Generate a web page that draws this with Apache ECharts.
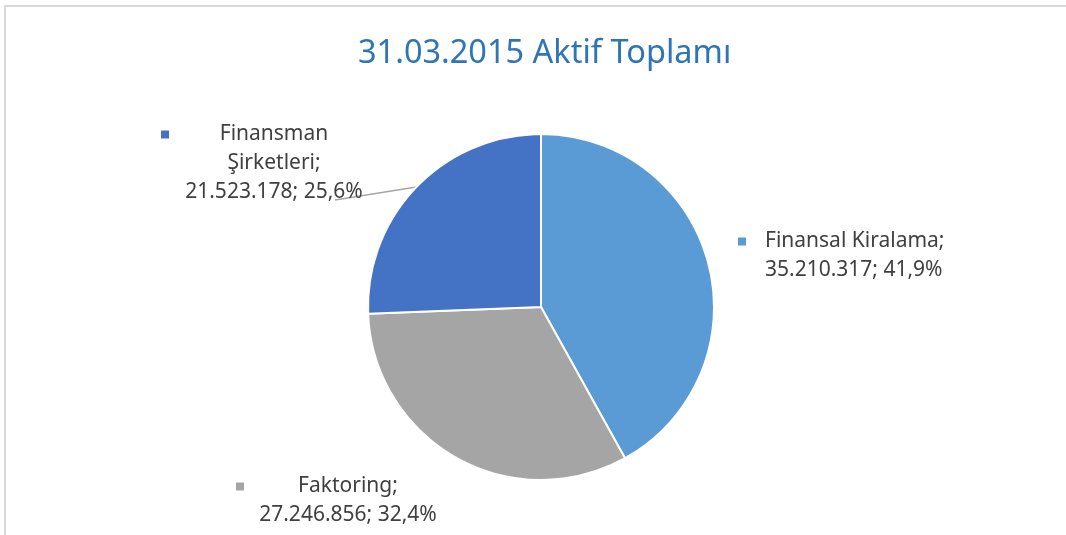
<!DOCTYPE html>
<html>
<head>
<meta charset="utf-8">
<script src="https://cdn.jsdelivr.net/npm/echarts@6/dist/echarts.min.js"></script>
<style>
  html, body { margin: 0; padding: 0; background: #fff; }
  #chart { position: absolute; left: 0; top: 0; width: 1066px; height: 535px; }
  #frame {
    position: absolute; left: 4px; top: 5px; width: 1100px; height: 600px;
    border-left: 2px solid #d9d9d9; border-top: 2px solid #d9d9d9;
    pointer-events: none;
  }
</style>
</head>
<body>
<div id="chart"></div>
<div id="frame"></div>
<script>
// data
const categories = ['Finansal Kiralama', 'Faktoring', 'Finansman Şirketleri']
const labelNames = ['Finansal Kiralama', 'Faktoring', 'Finansman\nŞirketleri']
const values = [35210317, 27246856, 21523178]
const colors = ['#5b9bd5', '#a5a5a5', '#4472c4']

// label boxes (left/top of the marker line), gap after marker, text width, align
const labelBoxes = [
  { x: 738, y: 227, gap: 19, width: 210, align: 'left' },
  { x: 236, y: 472, gap: 12, width: 184, align: 'center' },
  { x: 161, y: 120, gap: 12, width: 186, align: 'center' }
]

const total = values.reduce((a, b) => a + b, 0)
const fmtNum = v => String(v).replace(/\B(?=(\d{3})+(?!\d))/g, '.')
// excel style: each slice rounded on its own (sum may be 99,9)
const fmtPct = v => (Math.round(v / total * 1000) / 10).toFixed(1).replace('.', ',')

const myChart = echarts.init(document.getElementById('chart'))

const option = {
  title: {
    text: '31.03.2015 Aktif Toplamı',
    left: 353,
    top: 32,
    textStyle: {
      fontFamily: 'Noto Sans',
      fontSize: 32.5,
      fontWeight: 'normal',
      color: '#2e75b6'
    }
  },
  series: [
    {
      type: 'pie',
      center: [541, 307],
      radius: 173,
      startAngle: 90,
      clockwise: true,
      avoidLabelOverlap: false,
      itemStyle: {
        borderColor: '#fff',
        borderWidth: 2
      },
      label: {
        show: true,
        fontFamily: 'Noto Sans',
        fontSize: 21,
        color: '#404040',
        formatter: (p) => {
          const text = labelNames[p.dataIndex] + ';\n' + fmtNum(p.value) + '; ' + fmtPct(p.value) + '%'
          return text.split('\n').map((line, i) =>
            i === 0 ? '{m|}{g|}{t|' + line + '}' : '{s|}{t|' + line + '}'
          ).join('\n')
        }
      },
      labelLine: { show: false },
      labelLayout: (params) => {
        const b = labelBoxes[params.dataIndex]
        const res = { x: b.x, y: b.y, align: 'left', verticalAlign: 'top' }
        if (params.dataIndex === 2 && params.labelLinePoints) {
          // straight leader from the slice edge to under the last line
          const p0 = params.labelLinePoints[0]
          const end = [b.x + 174, b.y + 80]
          res.labelLinePoints = [p0, [(p0[0] + end[0]) / 2, (p0[1] + end[1]) / 2], end]
        }
        return res
      },
      data: categories.map((name, i) => {
        const b = labelBoxes[i]
        return {
          name: name,
          value: values[i],
          itemStyle: { color: colors[i] },
          label: {
            rich: {
              m: { width: 8, height: 8, backgroundColor: colors[i], lineHeight: 29 },
              g: { width: b.gap, lineHeight: 29 },
              s: { width: 8 + b.gap, lineHeight: 29 },
              t: {
                width: b.width, align: b.align, lineHeight: 29,
                fontFamily: 'Noto Sans', fontSize: 21, color: '#404040'
              }
            }
          },
          labelLine: i === 2 ? { show: true, smooth: false, lineStyle: { color: '#a6a6a6', width: 1.5 } } : { show: false }
        }
      })
    }
  ]
}
myChart.setOption(option)
window.addEventListener('resize', () => myChart.resize())
</script>
</body>
</html>
